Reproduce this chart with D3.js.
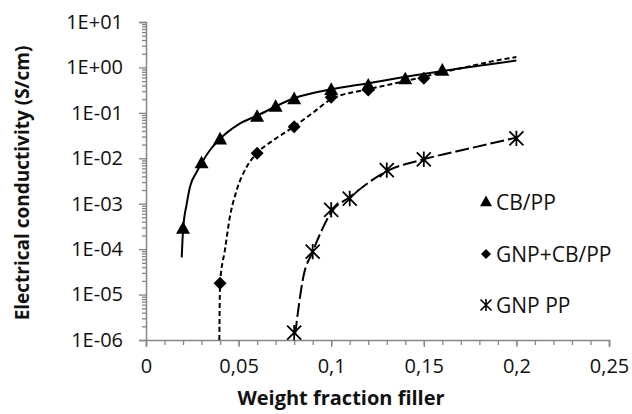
<!DOCTYPE html>
<html>
<head>
<meta charset="utf-8">
<script src="https://cdn.jsdelivr.net/npm/d3@7/dist/d3.min.js"></script>
<style>
  html, body { margin: 0; padding: 0; background: #fff; }
  svg { display: block; }
  text { font-family: "Open Sans", "Noto Sans", sans-serif; fill: #111; }
</style>
</head>
<body>
<svg id="chart" width="632" height="414"></svg>
<script>
// ---- axis ticks ----
const xTickValues = [0, 0.05, 0.10, 0.15, 0.20, 0.25];
const xTickLabels = ["0", "0,05", "0,1", "0,15", "0,2", "0,25"];
const yTickValues = [1e-6, 1e-5, 1e-4, 1e-3, 1e-2, 1e-1, 1e0, 1e1];
const yTickLabels = ["1E-06", "1E-05", "1E-04", "1E-03", "1E-02", "1E-01", "1E+00", "1E+01"];

// ---- measured points ----
const seriesNames = ["CB/PP", "GNP+CB/PP", "GNP PP"];

const cbX = [0.02, 0.03, 0.04, 0.06, 0.07, 0.08, 0.10, 0.12, 0.14, 0.16];
const cbY = [2.8e-4, 7.8e-3, 0.026, 0.082, 0.136, 0.20, 0.32, 0.40, 0.55, 0.85];

const gnpcbX = [0.04, 0.06, 0.08, 0.10, 0.12, 0.15];
const gnpcbY = [1.77e-5, 0.0129, 0.0496, 0.22, 0.32, 0.575];

const gnpX = [0.08, 0.09, 0.10, 0.11, 0.13, 0.15, 0.20];
const gnpY = [1.45e-6, 8.8e-5, 7.3e-4, 1.3e-3, 5.5e-3, 9.5e-3, 0.0275];

// ---- fitted trend lines ----
const cbFitX = [0.0193, 0.020, 0.022, 0.0238, 0.027, 0.030, 0.035, 0.040, 0.050, 0.060, 0.080, 0.100, 0.120, 0.140, 0.170, 0.200];
const cbFitY = [6.6e-5, 2.6e-4, 1.0e-3, 2.4e-3, 4.7e-3, 7.8e-3, 0.016, 0.027, 0.056, 0.087, 0.21, 0.33, 0.45, 0.62, 0.96, 1.42];

const gnpcbFitX = [0.0396, 0.040, 0.0427, 0.045, 0.049, 0.0544, 0.060, 0.0688, 0.080, 0.090, 0.100, 0.120, 0.140, 0.170, 0.190, 0.200];
const gnpcbFitY = [1e-6, 1.77e-5, 1e-4, 4.4e-4, 2e-3, 6.5e-3, 0.013, 0.025, 0.05, 0.10, 0.20, 0.33, 0.50, 0.96, 1.44, 1.70];

const gnpFitX = [0.0805, 0.085, 0.090, 0.0949, 0.100, 0.110, 0.130, 0.150, 0.175, 0.200];
const gnpFitY = [1.3e-6, 2.5e-5, 8.8e-5, 2.6e-4, 6.5e-4, 1.4e-3, 5.2e-3, 9.5e-3, 0.0166, 0.0285];

// ---- layout ----
const svg = d3.select("#chart");
const plot = { left: 146, right: 609, top: 22, bottom: 340 };
const axisColor = "#868686";

const x = d3.scaleLinear().domain([0, 0.25]).range([plot.left, plot.right]);
const y = d3.scaleLog().domain([1e-6, 1e1]).range([plot.bottom, plot.top]);

// x axis: minor ticks every 0.01, labelled majors every 0.05
const xMinor = d3.range(0, 26).map(i => i / 100);
svg.append("g")
  .attr("transform", `translate(0,${plot.bottom})`)
  .call(d3.axisBottom(x).tickValues(xMinor).tickSize(5).tickFormat(""))
  .call(g => g.select(".domain").remove())
  .call(g => g.selectAll("line").attr("stroke", axisColor).attr("stroke-width", 1.3));
const xAxis = svg.append("g")
  .attr("transform", `translate(0,${plot.bottom})`)
  .call(d3.axisBottom(x).tickValues(xTickValues).tickSize(7).tickPadding(12)
    .tickFormat((d, i) => xTickLabels[i]));
xAxis.select(".domain").attr("stroke", axisColor).attr("stroke-width", 1.5);
xAxis.selectAll("line").attr("stroke", axisColor).attr("stroke-width", 1.3);
xAxis.selectAll("text").attr("font-size", 20).attr("font-family", "'Open Sans', sans-serif").attr("fill", "#111");

// y axis: log minors 2..9 in each decade
const yMinor = [];
yTickValues.slice(0, -1).forEach(d => { for (let k = 2; k <= 9; k++) yMinor.push(d * k); });
svg.append("g")
  .attr("transform", `translate(${plot.left},0)`)
  .call(d3.axisLeft(y).tickValues(yMinor).tickSize(4).tickFormat(""))
  .call(g => g.select(".domain").remove())
  .call(g => g.selectAll("line").attr("stroke", axisColor).attr("stroke-width", 1.3));
const yAxis = svg.append("g")
  .attr("transform", `translate(${plot.left},0)`)
  .call(d3.axisLeft(y).tickValues(yTickValues).tickSize(7).tickPadding(16)
    .tickFormat((d, i) => yTickLabels[i]));
yAxis.select(".domain").attr("stroke", axisColor).attr("stroke-width", 1.5);
yAxis.selectAll("line").attr("stroke", axisColor).attr("stroke-width", 1.3);
yAxis.selectAll("text").attr("font-size", 20).attr("font-family", "'Open Sans', sans-serif").attr("fill", "#111");

// axis titles
svg.append("text")
  .attr("x", 341).attr("y", 405)
  .attr("text-anchor", "middle")
  .attr("font-size", 20).attr("font-weight", "bold")
  .text("Weight fraction filler");
svg.append("text")
  .attr("transform", `translate(29,${(plot.top + plot.bottom) / 2 + 2}) rotate(-90)`)
  .attr("text-anchor", "middle")
  .attr("font-size", 19).attr("font-weight", "bold")
  .text("Electrical conductivity  (S/cm)");

// trend lines
const line = d3.line().x(d => x(d[0])).y(d => y(d[1])).curve(d3.curveMonotoneX);
const fits = [
  { xs: cbFitX, ys: cbFitY, dash: null },
  { xs: gnpcbFitX, ys: gnpcbFitY, dash: "5,3" },
  { xs: gnpFitX, ys: gnpFitY, dash: "14,4" }
];
fits.forEach(f => {
  svg.append("path")
    .datum(d3.zip(f.xs, f.ys))
    .attr("d", line)
    .attr("fill", "none")
    .attr("stroke", "#000")
    .attr("stroke-width", 2)
    .attr("stroke-dasharray", f.dash);
});

// marker shapes
function triangle(s) { const h = s * 0.9; return `M0,${-h * 0.6}L${s / 2},${h * 0.4}L${-s / 2},${h * 0.4}Z`; }
function diamond(s) { const r = s / 2; return `M0,${-r}L${r},0L0,${r}L${-r},0Z`; }
function star(s) {
  const r = s / 2, v = s * 0.55;
  return `M${-r},${-r}L${r},${r}M${-r},${r}L${r},${-r}M0,${-v}L0,${v}`;
}

function drawTriangles(g, xs, ys, size) {
  g.selectAll(null).data(d3.zip(xs, ys)).join("path")
    .attr("transform", d => `translate(${x(d[0])},${y(d[1])})`)
    .attr("d", triangle(size)).attr("fill", "#000");
}
function drawDiamonds(g, xs, ys, size) {
  g.selectAll(null).data(d3.zip(xs, ys)).join("path")
    .attr("transform", d => `translate(${x(d[0])},${y(d[1])})`)
    .attr("d", diamond(size)).attr("fill", "#000");
}
function drawStars(g, xs, ys, size) {
  g.selectAll(null).data(d3.zip(xs, ys)).join("path")
    .attr("transform", d => `translate(${x(d[0])},${y(d[1])})`)
    .attr("d", star(size)).attr("fill", "none").attr("stroke", "#000").attr("stroke-width", 1.8);
}

const marks = svg.append("g");
drawDiamonds(marks, gnpcbX, gnpcbY, 13);
drawTriangles(marks, cbX, cbY, 14);
drawStars(marks, gnpX, gnpY, 14);

// legend
const legend = svg.append("g");
const legendRows = [
  { y: 202, shape: triangle(12), fill: true },
  { y: 254, shape: diamond(10), fill: true },
  { y: 305, shape: star(11), fill: false }
];
legendRows.forEach((r, i) => {
  legend.append("path")
    .attr("transform", `translate(486,${r.y})`)
    .attr("d", r.shape)
    .attr("fill", r.fill ? "#000" : "none")
    .attr("stroke", r.fill ? "none" : "#000")
    .attr("stroke-width", 1.6);
  legend.append("text")
    .attr("x", 496).attr("y", r.y)
    .attr("dy", "0.36em")
    .attr("font-size", 21)
    .text(seriesNames[i]);
});
</script>
</body>
</html>
